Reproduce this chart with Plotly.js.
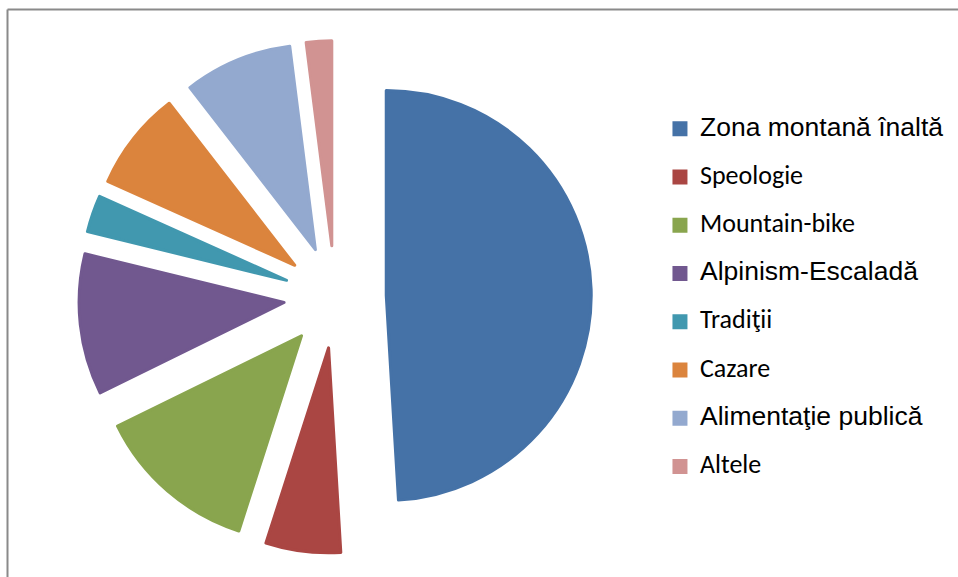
<!DOCTYPE html>
<html>
<head>
<meta charset="utf-8">
<script src="https://cdn.plot.ly/plotly-3.0.1.min.js"></script>
<style>html,body{margin:0;padding:0;background:#fff;}#chart{width:958px;height:577px;}</style>
</head>
<body>
<div id="chart"></div>
<script>
// ---- data ----
var categories = ["Zona montană înaltă", "Speologie", "Mountain-bike", "Alpinism-Escaladă", "Tradiţii", "Cazare", "Alimentaţie publică", "Altele"];
var values = [49.1, 5.9, 12.8, 11.1, 2.9, 7.8, 8.5, 2.0];
var colors = ["#4572A7", "#AA4643", "#89A54E", "#71588F", "#4198AF", "#DB843D", "#93A9CF", "#D19392"];

// ---- styling of legend entries (Arial-like vs Calibri-like as in the original) ----
var entryFonts = ["Liberation Sans", "Carlito, Lato", "Carlito, Lato", "Liberation Sans", "Carlito, Lato", "Carlito, Lato", "Liberation Sans", "Carlito, Lato"];
var entrySizes = [26.5, 26, 26, 26.5, 26, 26, 26.5, 26];
var legendLabels = categories.map(function (c, i) {
  return '<span style="font-family:' + entryFonts[i] + ';font-size:' + entrySizes[i] + 'px">' + c + '</span><br> ';
});

var trace = {
  type: 'pie',
  labels: legendLabels,
  values: values,
  sort: false,
  direction: 'clockwise',
  rotation: 0,
  pull: 0.25,
  textinfo: 'none',
  hoverinfo: 'none',
  marker: { colors: colors, line: { color: colors, width: 3 } },
  domain: { x: [0.0822, 0.6172], y: [0.0412, 0.9294] }
};

var layout = {
  width: 958,
  height: 577,
  margin: { l: 0, r: 0, t: 0, b: 0, autoexpand: false },
  paper_bgcolor: '#ffffff',
  plot_bgcolor: '#ffffff',
  showlegend: true,
  legend: {
    x: 0.6889, y: 0.8078, xanchor: 'left', yanchor: 'top',
    font: { family: 'Liberation Sans', size: 17.4, color: '#000000' },
    valign: 'top',
    bgcolor: 'rgba(0,0,0,0)',
    borderwidth: 0
  },
  shapes: [
    { type: 'line', xref: 'paper', yref: 'paper', x0: 7.5 / 958, x1: 1, y0: 1 - 9.5 / 577, y1: 1 - 9.5 / 577, line: { color: '#8a8a8a', width: 2 } },
    { type: 'line', xref: 'paper', yref: 'paper', x0: 7.5 / 958, x1: 7.5 / 958, y0: 0, y1: 1 - 9.5 / 577, line: { color: '#8a8a8a', width: 2 } }
  ]
};

Plotly.newPlot('chart', [trace], layout, { staticPlot: true, displayModeBar: false });
</script>
</body>
</html>
